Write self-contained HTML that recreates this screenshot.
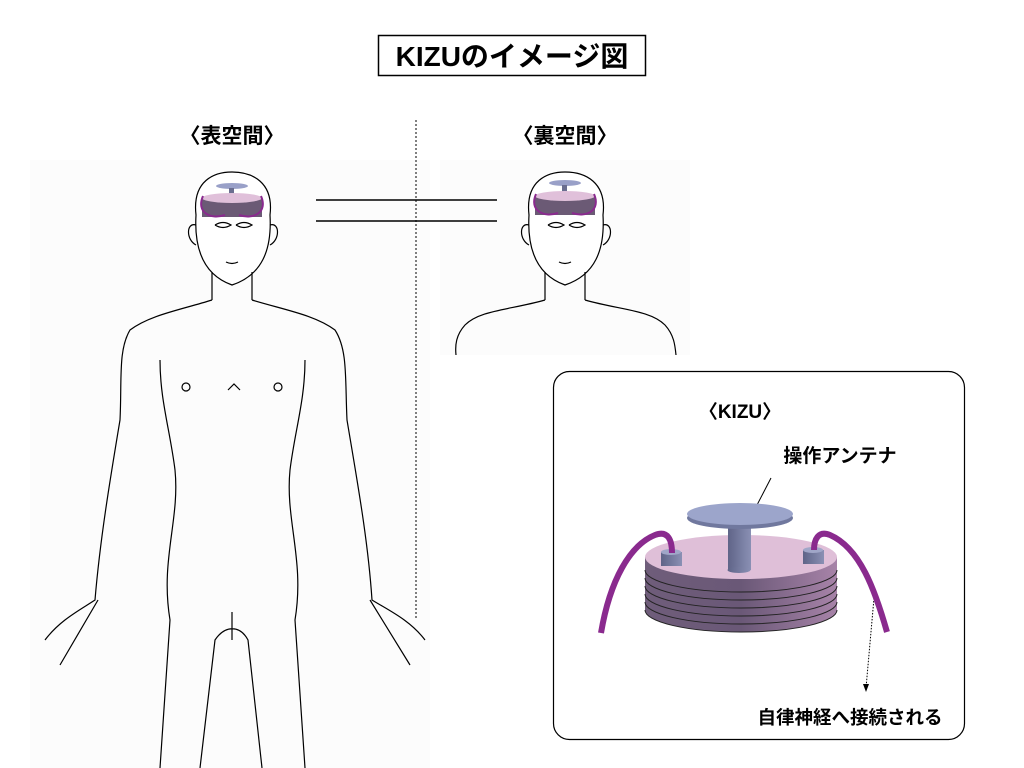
<!DOCTYPE html>
<html><head><meta charset="utf-8"><style>
body{margin:0;background:#fff;}
svg{display:block;font-family:"Liberation Sans","Noto Sans CJK JP",sans-serif;}
</style></head><body>
<svg width="1024" height="768" viewBox="0 0 1024 768" xmlns="http://www.w3.org/2000/svg">
<defs>
<linearGradient id="side" x1="0" x2="1"><stop offset="0" stop-color="#6f5d7a"/><stop offset="0.5" stop-color="#6a5877"/><stop offset="1" stop-color="#a783a8"/></linearGradient>
<linearGradient id="pole" x1="0" x2="1"><stop offset="0" stop-color="#5f6488"/><stop offset="1" stop-color="#8a90b4"/></linearGradient>
</defs>
<rect x="30" y="160" width="400" height="608" fill="#fcfcfc"/>
<rect x="440" y="160" width="250" height="195" fill="#fcfcfc"/>
<!-- title -->
<rect x="378.5" y="35.5" width="267" height="40" fill="#fff" stroke="#000" stroke-width="1.5"/>
<text x="512" y="66" font-size="28" font-weight="bold" text-anchor="middle">KIZUのイメージ図</text>
<text x="232" y="143" font-size="21" font-weight="bold" text-anchor="middle">〈表空間〉</text>
<text x="565" y="143" font-size="21" font-weight="bold" text-anchor="middle">〈裏空間〉</text>
<line x1="416" y1="120" x2="416" y2="620" stroke="#000" stroke-dasharray="2,2"/>
<line x1="316" y1="200" x2="497" y2="200" stroke="#000" stroke-width="1.5"/>
<line x1="316" y1="221" x2="497" y2="221" stroke="#000" stroke-width="1.5"/>

<!-- left figure -->
<g fill="none" stroke="#000" stroke-width="1.2">
<path d="M196,215 C192,180 215,172 232,172 C252,172 274,182 270,215 C272,250 262,275 232,285 C204,275 194,250 196,215 Z" fill="#fff"/>
<path d="M196,225 C186,222 186,240 196,245 M270,225 C280,222 280,240 270,245"/>
<path d="M212,272 L212,300 M252,272 L252,300"/>
<path d="M212,300 C180,310 150,315 130,330 C118,350 122,380 120,420 C110,480 100,540 95,600 C80,610 60,620 45,640 M98,600 L60,665 M252,300 C285,310 315,315 335,330 C348,350 345,380 347,420 C357,480 368,540 372,600 C388,610 410,620 425,640 M370,600 L410,665"/>
<path d="M160,360 C160,400 170,430 175,470 C180,520 160,560 170,620 L160,768 M305,360 C305,400 295,430 290,470 C285,520 305,560 295,620 L305,768"/>
<path d="M200,768 L215,640 C225,625 240,625 248,640 L262,768 M232,612 L232,640"/>
<circle cx="186" cy="387" r="4"/><circle cx="278" cy="387" r="4"/>
<path d="M228,390 L234,384 L240,390"/>
<path d="M215,225 q8,-5 16,0 q-8,5 -16,0 M236,225 q8,-5 16,0 q-8,5 -16,0"/>
<path d="M226,262 q6,3 12,0"/>
</g>
<g>
<ellipse cx="232" cy="186" rx="16" ry="3" fill="#99a0c8"/>
<rect x="229" y="188" width="5" height="12" fill="#6a6e90"/>
<rect x="202" y="198" width="60" height="19" fill="#6b5a75"/>
<ellipse cx="232" cy="198" rx="30" ry="5" fill="#e0c0da"/>
<path d="M203,196 C196,212 210,220 225,215 M261,196 C268,212 254,220 239,215" fill="none" stroke="#8a2a8e" stroke-width="2"/>
</g>

<!-- right figure -->
<g fill="none" stroke="#000" stroke-width="1.2">
<path d="M529,215 C525,180 548,172 565,172 C585,172 607,182 603,215 C605,250 595,275 565,285 C537,275 527,250 529,215 Z" fill="#fff"/>
<path d="M529,225 C519,222 519,240 529,245 M603,225 C613,222 613,240 603,245"/>
<path d="M545,272 L545,300 M585,272 L585,300"/>
<path d="M545,300 C510,310 480,310 465,325 C456,335 455,345 456,355 M585,300 C620,310 650,310 665,325 C674,335 675,345 676,355"/>
<path d="M548,225 q8,-5 16,0 q-8,5 -16,0 M569,225 q8,-5 16,0 q-8,5 -16,0"/>
<path d="M559,262 q6,3 12,0"/>
</g>
<g>
<ellipse cx="565" cy="183" rx="16" ry="3" fill="#99a0c8"/>
<rect x="562" y="185" width="5" height="12" fill="#6a6e90"/>
<rect x="535" y="196" width="60" height="19" fill="#6b5a75"/>
<ellipse cx="565" cy="196" rx="30" ry="5" fill="#e0c0da"/>
<path d="M536,194 C529,210 543,218 558,213 M594,194 C601,210 587,218 572,213" fill="none" stroke="#8a2a8e" stroke-width="2"/>
</g>

<!-- KIZU box -->
<rect x="553.5" y="371.5" width="411" height="368" rx="16" fill="#fff" stroke="#000" stroke-width="1.2"/>
<text x="740" y="418" font-size="19" font-weight="bold" text-anchor="middle">〈KIZU〉</text>
<text x="840" y="462" font-size="19" font-weight="bold" text-anchor="middle">操作アンテナ</text>
<line x1="771" y1="478" x2="757" y2="505" stroke="#000"/>
<text x="850" y="724" font-size="18.5" font-weight="bold" text-anchor="middle">自律神経へ接続される</text>
<line x1="874" y1="598" x2="866" y2="688" stroke="#000" stroke-dasharray="1.5,1.5"/>
<path d="M863,684 L866,692 L869,684 Z" fill="#000"/>
<!-- device -->
<path d="M645,557 L645,610 A96,22 0 0 0 837,610 L837,557 Z" fill="url(#side)"/>
<g stroke="#222" fill="none" stroke-width="1">
<path d="M645,570 A96,22 0 0 0 837,570"/>
<path d="M645,578 A96,22 0 0 0 837,578"/>
<path d="M645,586 A96,22 0 0 0 837,586"/>
<path d="M645,594 A96,22 0 0 0 837,594"/>
<path d="M645,602 A96,22 0 0 0 837,602"/>
<path d="M645,610 A96,22 0 0 0 837,610"/>
</g>
<ellipse cx="741" cy="557" rx="96" ry="22" fill="#dfbfd8"/>
<rect x="661" y="552" width="21" height="14" fill="url(#pole)"/><ellipse cx="671" cy="552" rx="10" ry="3" fill="#a0a6c8"/>
<rect x="803" y="550" width="21" height="14" fill="url(#pole)"/><ellipse cx="813" cy="550" rx="10" ry="3" fill="#a0a6c8"/>
<rect x="728" y="520" width="23" height="50" fill="url(#pole)"/>
<ellipse cx="739" cy="570" rx="11.5" ry="3" fill="url(#pole)"/>
<ellipse cx="740" cy="518" rx="53" ry="11" fill="#70789e"/>
<ellipse cx="740" cy="514" rx="53" ry="11" fill="#9ca5cb"/>
<path d="M672,553 C672,540 668,530 655,535 C630,545 610,580 601,633" fill="none" stroke="#8a2a8e" stroke-width="6"/>
<path d="M814,550 C814,540 818,530 830,535 C860,548 875,590 887,632" fill="none" stroke="#8a2a8e" stroke-width="6"/>
</svg>
</body></html>
